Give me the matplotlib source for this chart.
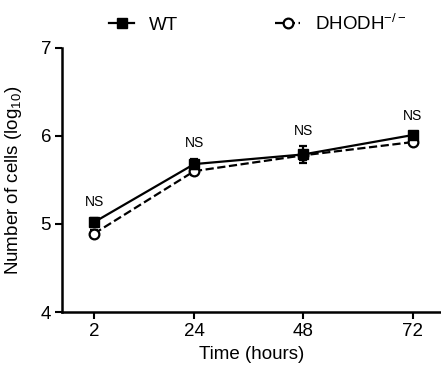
import numpy as np
import matplotlib
matplotlib.use('Agg')
import matplotlib.pyplot as plt
from matplotlib.lines import Line2D

plt.rcParams.update({'font.size': 10, 'font.family': ['Liberation Sans', 'DejaVu Sans']})

# данные
hours = [2, 24, 48, 72]
wt = [5.02, 5.68, 5.79, 6.01]
wt_err = [0.05, 0.06, 0.10, 0.04]
ko = [4.89, 5.60, 5.78, 5.93]
ko_err = [0.04, 0.04, 0.05, 0.03]
ns_labels = ['NS', 'NS', 'NS', 'NS']
ns_y = [5.25, 5.92, 6.06, 6.23]

fig = plt.figure(figsize=(4.41, 3.71), dpi=100)
ax = fig.add_axes([0.141, 0.159, 0.859, 0.712])

ax.errorbar(hours, wt, yerr=wt_err, color='black', linewidth=1.6,
            marker='s', markersize=7, capsize=3, capthick=1.6, elinewidth=1.6,
            zorder=3)
ax.errorbar(hours, ko, yerr=ko_err, color='black', linewidth=1.6, linestyle='--',
            marker='o', markersize=7, markerfacecolor='white', markeredgewidth=1.6,
            capsize=3, capthick=1.6, elinewidth=1.6, zorder=2)

for x, y, s in zip(hours, ns_y, ns_labels):
    ax.text(x, y, s, ha='center', va='center', fontsize=10)

ax.set_xlim(-5, 78.2)
ax.set_ylim(4, 7)
ax.set_xticks(hours)
ax.set_yticks([4, 5, 6, 7])
ax.set_xlabel('Time (hours)', fontsize=13.5, labelpad=4)
ax.set_ylabel('Number of cells (log$_{\\mathregular{10}}$)', fontsize=13.5, labelpad=12)

for side in ['top', 'right']:
    ax.spines[side].set_visible(False)
for side in ['left', 'bottom']:
    ax.spines[side].set_linewidth(1.8)
ax.tick_params(width=1.5, length=5, labelsize=13.5, pad=3)

handles = [
    Line2D([], [], color='black', linewidth=1.6, marker='s', markersize=7),
    Line2D([], [], color='black', linewidth=1.6, linestyle='--', marker='o',
           markersize=7, markerfacecolor='white', markeredgewidth=1.6),
]
fig.legend(handles, ['WT', 'DHODH$^{\\mathregular{-/-}}$'], loc='upper center',
           bbox_to_anchor=(0.585, 1.01), ncol=2, frameon=False,
           handlelength=1.3, columnspacing=5.2, fontsize=13.5, handletextpad=0.8)

plt.savefig('out.png', dpi=100)
plt.close()
